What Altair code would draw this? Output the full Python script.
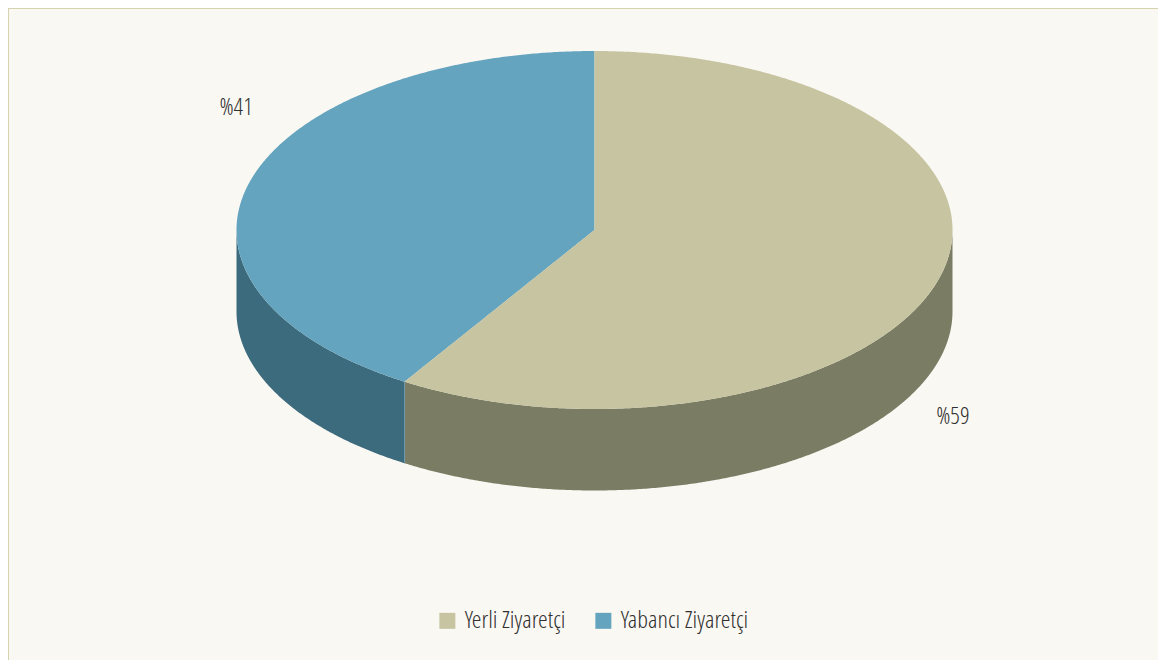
import math
import altair as alt
import pandas as pd

categories = ["Yerli Ziyaretçi", "Yabancı Ziyaretçi"]
shares = [58.9, 41.1]
labels = ["%59", "%41"]
top_colors = ["#c7c4a1", "#64a4bf"]
side_colors = ["#7a7c63", "#3d6b7e"]

W, H = 1150, 652
CX, CY, RX, RY, DEPTH = 586.5, 222.0, 358.0, 179.0, 81.5
FONT = "Open Sans Condensed Light"
TEXT = "#303030"
BG = "#faf8f3"
FRAME = "#d5d3ab"

split = math.radians(shares[0] / sum(shares) * 360)
x0, y0 = math.sin(split), math.cos(split)
depth = DEPTH / RY


def low(x):
    return -math.sqrt(max(0.0, 1 - x * x))


def chord(x):
    return y0 * x / x0


xs = sorted(
    set([math.sin(-math.pi / 2 + math.pi * i / 480) for i in range(481)] + [x0, 0.0])
)

rows_top = []
for x in xs:
    if x >= x0:
        rows_top.append(
            dict(cat=categories[0], x=x, y=chord(x) if x < 0 else -low(x), y2=low(x))
        )
    if x <= 0:
        rows_top.append(
            dict(cat=categories[1], x=x, y=-low(x), y2=low(x) if x < x0 else chord(x))
        )
top = pd.DataFrame(rows_top)

side_rows = []
for x in xs:
    if x >= x0:
        side_rows.append(dict(cat=categories[0], x=x, y=low(x), y2=low(x) - depth))
    if x <= x0:
        side_rows.append(dict(cat=categories[1], x=x, y=low(x), y2=low(x) - depth))
side = pd.DataFrame(side_rows)

xscale = alt.Scale(domain=[-CX / RX, (W - CX) / RX], nice=False, zero=False)
yscale = alt.Scale(domain=[-(H - CY) / RY, CY / RY], nice=False, zero=False)
X = alt.X("x:Q", scale=xscale, axis=None)
Y = alt.Y("y:Q", scale=yscale, axis=None, stack=None)

sides = (
    alt.Chart(side)
    .mark_area(interpolate="linear")
    .encode(
        x=X,
        y=Y,
        y2="y2:Q",
        fill=alt.Fill("cat:N", scale=alt.Scale(domain=categories, range=side_colors), legend=None),
    )
)

seam = (
    alt.Chart(pd.DataFrame({"x": [x0], "y": [y0], "y2": [y0 - depth]}))
    .mark_rule(color="#6f97ab", strokeWidth=1)
    .encode(x=X, y=Y, y2="y2:Q")
)

tops = (
    alt.Chart(top)
    .mark_area(interpolate="linear")
    .encode(
        x=X,
        y=Y,
        y2="y2:Q",
        color=alt.Color(
            "cat:N",
            scale=alt.Scale(domain=categories, range=top_colors),
            sort=categories,
            legend=alt.Legend(
                title=None,
                orient="none",
                legendX=427,
                legendY=600,
                direction="horizontal",
                columns=2,
                columnPadding=25,
                symbolType="square",
                symbolSize=256,
                symbolStrokeWidth=0,
                symbolOpacity=1,
                labelFont=FONT,
                labelFontSize=24.7,
                labelColor=TEXT,
                labelOffset=5,
                padding=0,
            ),
        ),
    )
)

mids = [math.radians(106.2), math.radians(286.2)]
label_df = pd.DataFrame(
    {
        "label": labels,
        "x": [math.sin(m) for m in mids],
        "y": [math.cos(m) for m in mids],
    }
)


def label(i, dx, dy):
    return (
        alt.Chart(label_df.iloc[[i]])
        .mark_text(font=FONT, fontSize=24, color=TEXT, dx=dx, dy=dy)
        .encode(x=X, y=Y, text="label:N")
    )


frame_top = alt.Chart(pd.DataFrame({"a": [0]})).mark_rule(color=FRAME, strokeWidth=1).encode(
    x=alt.value(0), x2=alt.value(W), y=alt.value(0.5)
)
frame_left = alt.Chart(pd.DataFrame({"a": [0]})).mark_rule(color=FRAME, strokeWidth=1).encode(
    x=alt.value(0.5), y=alt.value(0), y2=alt.value(H)
)

chart = (
    alt.layer(frame_top, frame_left, sides, seam, tops, label(0, 14.6, 136.6), label(1, -14.6, -72))
    .resolve_scale(color="independent", fill="independent")
    .properties(width=W, height=H, background=BG, padding=0, autosize=alt.AutoSizeParams(type="none"))
    .configure_view(stroke=None)
)

chart.save("out.html", embed_options={"renderer": "svg", "actions": False})
